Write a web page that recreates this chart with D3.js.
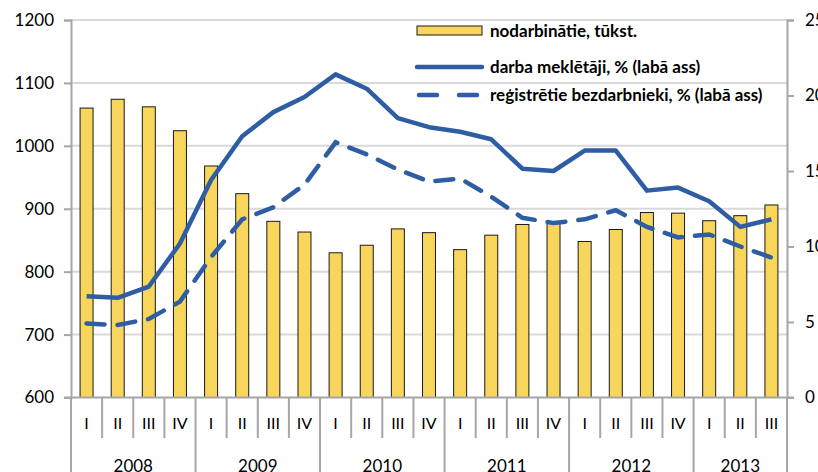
<!DOCTYPE html>
<html><head><meta charset="utf-8">
<script src="https://cdn.jsdelivr.net/npm/d3@7"></script>
<style>body{margin:0;background:#fff;overflow:hidden}svg{display:block}text{font-family:Lato,"Open Sans",sans-serif;fill:#000}</style>
</head><body><svg id="c" width="818" height="472"></svg>
<script>
const years = ["2008","2009","2010","2011","2012","2013"];
const quarterLabels = ["I","II","III","IV"];
const categories = [
 "2008 I","2008 II","2008 III","2008 IV",
 "2009 I","2009 II","2009 III","2009 IV",
 "2010 I","2010 II","2010 III","2010 IV",
 "2011 I","2011 II","2011 III","2011 IV",
 "2012 I","2012 II","2012 III","2012 IV",
 "2013 I","2013 II","2013 III"];
const employed = [1060,1074,1062,1024,968,924,880,863,830,842,868,862,835,858,875,877,848,867,894,893,881,889,906];
const jobSeekers = [6.7,6.6,7.35,10.2,14.4,17.3,18.9,19.9,21.4,20.45,18.5,17.9,17.6,17.1,15.15,15.0,16.35,16.35,13.7,13.9,13.0,11.3,11.8];
const registered = [4.9,4.8,5.2,6.35,9.3,11.8,12.6,14.1,16.9,16.1,15.1,14.3,14.5,13.3,11.9,11.55,11.8,12.4,11.3,10.6,10.8,10.0,9.27];
const leftTicks = [600,700,800,900,1000,1100,1200];
const rightTicks = [0,5,10,15,20,25];
const legendLabels = ["nodarbinātie, tūkst.","darba meklētāji, % (labā ass)","reģistrētie bezdarbnieki, % (labā ass)"];

const svg = d3.select("#c");
const L = 71, R = 787, T = 20, B = 397.5;
const x = d3.scaleBand().domain(categories).range([L, R]).paddingInner(0).paddingOuter(0);
const yL = d3.scaleLinear().domain([600,1200]).range([B, T]);
const yR = d3.scaleLinear().domain([0,25]).range([B, T]);
const blue = "#2F5DA3", axisCol = "#a6a6a6";

// gridlines
svg.append("g").selectAll("line").data(leftTicks.slice(1)).join("line")
  .attr("x1", L).attr("x2", R).attr("y1", d=>yL(d)).attr("y2", d=>yL(d))
  .attr("stroke", "#d9d9d9").attr("stroke-width", 2);

// left axis
const gl = svg.append("g").attr("transform", `translate(${L},0)`)
  .call(d3.axisLeft(yL).tickValues(leftTicks).tickSize(7).tickPadding(10).tickFormat(d3.format("d")));
gl.select(".domain").attr("stroke", axisCol).attr("stroke-width", 2);
gl.selectAll(".tick line").attr("stroke", axisCol).attr("stroke-width", 2);
gl.selectAll("text").style("font-size", "17px").attr("fill", "#000");

// right axis
const gr = svg.append("g").attr("transform", `translate(${R},0)`)
  .call(d3.axisRight(yR).tickValues(rightTicks).tickSize(7).tickPadding(11));
gr.select(".domain").attr("stroke", axisCol).attr("stroke-width", 2);
gr.selectAll(".tick line").attr("stroke", axisCol).attr("stroke-width", 2);
gr.selectAll("text").style("font-size", "17px").attr("fill", "#000");

// bars
const bw = 13;
svg.append("g").selectAll("rect").data(employed).join("rect")
  .attr("x", (d,i)=>x(categories[i]) + x.bandwidth()/2 - bw/2)
  .attr("width", bw)
  .attr("y", d=>yL(d)).attr("height", d=>B - yL(d))
  .attr("fill", "#F8D55B").attr("stroke", "#1a1a1a").attr("stroke-width", 1);

// lines
const line = d3.line().x((d,i)=>x(categories[i]) + x.bandwidth()/2).y(d=>yR(d));
svg.append("path").datum(jobSeekers).attr("d", line).attr("fill","none")
  .attr("stroke", blue).attr("stroke-width", 4.5).attr("stroke-linejoin","round");
svg.append("path").datum(registered).attr("d", line).attr("fill","none")
  .attr("stroke", blue).attr("stroke-width", 4.5).attr("stroke-dasharray","18,13").attr("stroke-linecap","round");

// bottom axis
svg.append("line").attr("x1", L-7).attr("x2", R+7).attr("y1", B).attr("y2", B)
  .attr("stroke", axisCol).attr("stroke-width", 2);
const bounds = d3.range(categories.length + 1);
svg.append("g").selectAll("line").data(bounds).join("line")
  .attr("x1", i => i < categories.length ? x(categories[i]) : R)
  .attr("x2", i => i < categories.length ? x(categories[i]) : R)
  .attr("y1", B)
  .attr("y2", i => (i % 4 === 0 || i === categories.length) ? 472 : 438)
  .attr("stroke", axisCol).attr("stroke-width", 2);
svg.append("g").selectAll("text").data(categories).join("text")
  .attr("x", d => x(d) + x.bandwidth()/2).attr("y", 429)
  .attr("text-anchor","middle").style("font-size","16px")
  .text((d,i)=>quarterLabels[i % 4]);
svg.append("g").selectAll("text").data(years).join("text")
  .attr("x", (d,i) => {
    const a = x(categories[i*4]);
    const e = (i*4+4) < categories.length ? x(categories[i*4+4]) : R;
    return (a+e)/2;
  })
  .attr("y", 472).attr("text-anchor","middle").style("font-size","17px")
  .text(d=>d);

// legend
const lg = svg.append("g");
const lx = 417, ly = [31, 67, 95];
lg.append("rect").attr("x", lx).attr("y", 26).attr("width", 65).attr("height", 9)
  .attr("fill","#F8D55B").attr("stroke","#1a1a1a").attr("stroke-width",1);
lg.append("line").attr("x1", lx).attr("x2", lx+65).attr("y1", ly[1]).attr("y2", ly[1])
  .attr("stroke", blue).attr("stroke-width", 4.5).attr("stroke-linecap","round");
lg.append("line").attr("x1", lx+2).attr("x2", lx+65).attr("y1", ly[2]).attr("y2", ly[2])
  .attr("stroke", blue).attr("stroke-width", 4.5).attr("stroke-dasharray","18,22").attr("stroke-linecap","round");
lg.selectAll("text").data(legendLabels).join("text")
  .attr("x", 490).attr("y", (d,i)=>ly[i]).attr("dy","0.35em")
  .style("font-size","17px").style("font-weight","bold").text(d=>d);
</script></body></html>
